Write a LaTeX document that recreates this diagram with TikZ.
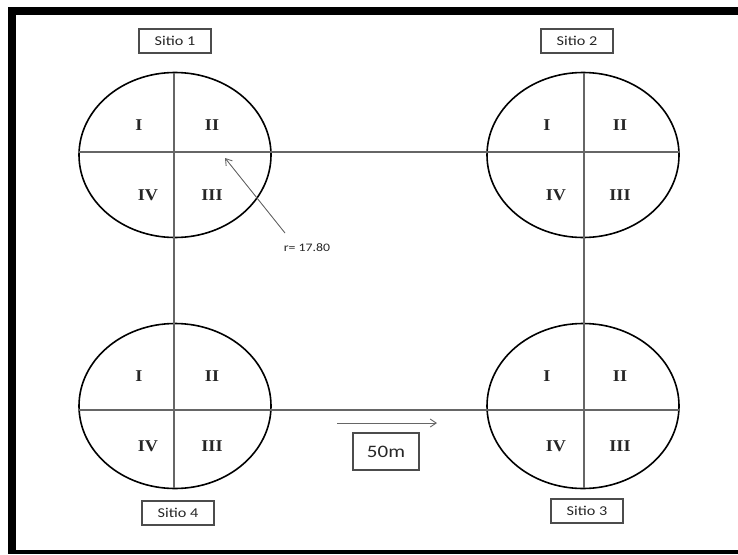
\documentclass[tikz,border=0pt]{standalone}
\usepackage{fontspec}
\setmainfont[FakeStretch=1.2]{Carlito}
\newfontfamily\romfont[FakeStretch=1.1]{Liberation Serif}
\usetikzlibrary{shapes.geometric,arrows.meta,calc}
\begin{document}
\begin{tikzpicture}[x=1pt,y=-1pt,
  plot/.style={draw=black,line width=1.6pt,ellipse,minimum width=192pt,minimum height=165pt,inner sep=0pt},
  axis/.style={draw=black!60,line width=1.1pt},
  rom/.style={font=\romfont\bfseries\fontsize{16.5}{17}\selectfont,text=black!85,inner sep=0pt},
  sitebox/.style={draw=black!70,line width=1.1pt,minimum width=72pt,minimum height=24pt,inner sep=0pt,font=\fontsize{13.5}{14}\selectfont,text=black!85},
  pointer/.style={draw=black!60,line width=0.9pt,-{Straight Barb[length=6pt,width=8pt]}}]
\useasboundingbox (0,0) rectangle (738,554);
\fill[white] (0,0) rectangle (738,554);
% frame
\fill[black] (8,7) rectangle (738,15);
\fill[black] (8,7) rectangle (16,554);
\fill[black] (8,550) rectangle (738,554);
% plots
\node[plot] (s1) at (175,155) {};
\node[plot] (s2) at (583,155) {};
\node[plot] (s4) at (175,406) {};
\node[plot] (s3) at (583,406) {};
% axes
\coordinate (h1a) at (79,152);
\coordinate (h1b) at (679,152);
\coordinate (h2a) at (79,410);
\coordinate (h2b) at (679,410);
\coordinate (v1a) at (174,73);
\coordinate (v1b) at (174,488);
\coordinate (v2a) at (584,73);
\coordinate (v2b) at (584,488);
\draw[axis] (h1a) -- (h1b);
\draw[axis] (h2a) -- (h2b);
\draw[axis] (v1a) -- (v1b);
\draw[axis] (v2a) -- (v2b);
% numerals
\foreach \s in {s1,s2,s3,s4}{
  \node[rom] (\s-I)   at ($(\s)+(-36,-30)$) {I};
  \node[rom] (\s-II)  at ($(\s)+(37,-30)$) {II};
  \node[rom] (\s-IV)  at ($(\s)+(-27,40)$) {IV};
  \node[rom] (\s-III) at ($(\s)+(37,40)$) {III};
}
% site labels
\node[sitebox] (l1) at (175,41) {Sitio 1};
\node[sitebox] (l2) at (577,41) {Sitio 2};
\node[sitebox] (l4) at (178,513) {Sitio 4};
\node[sitebox] (l3) at (587,511) {Sitio 3};
% radius pointer
\node[font=\fontsize{11.5}{12}\selectfont,text=black!85,inner sep=1pt] (r) at (307,248) {r= 17.80};
\coordinate (rtail) at (285,233);
\coordinate (rhead) at (225,158);
\draw[pointer] (rtail) -- (rhead);
% distance
\coordinate (da) at (337,423);
\coordinate (db) at (437,423);
\draw[pointer] (da) -- (db);
\node[sitebox,minimum width=66pt,minimum height=37pt,font=\fontsize{17.5}{18}\selectfont] (d) at (386,451.5) {50m};
\end{tikzpicture}
\end{document}
